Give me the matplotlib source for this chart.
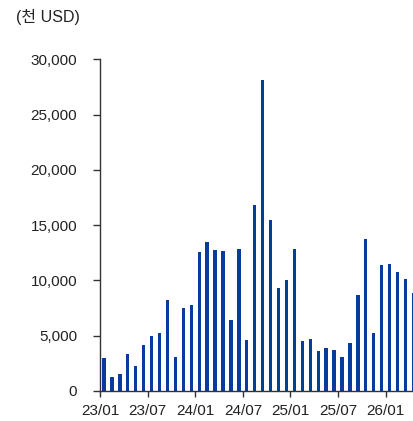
import matplotlib
matplotlib.use("Agg")
import matplotlib.pyplot as plt
from matplotlib.ticker import FuncFormatter

plt.rcParams['font.family'] = ['Liberation Sans', 'Noto Sans CJK KR', 'DejaVu Sans']

months = ["23/01", "23/02", "23/03", "23/04", "23/05", "23/06", "23/07", "23/08", "23/09", "23/10",
          "23/11", "23/12", "24/01", "24/02", "24/03", "24/04", "24/05", "24/06", "24/07", "24/08",
          "24/09", "24/10", "24/11", "24/12", "25/01", "25/02", "25/03", "25/04", "25/05", "25/06",
          "25/07", "25/08", "25/09", "25/10", "25/11", "25/12", "26/01", "26/02", "26/03", "26/04"]
values = [3000, 1270, 1500, 3340, 2230, 4190, 4970, 5210, 8220, 3070,
          7530, 7800, 12590, 13490, 12770, 12650, 6450, 12830, 4640, 16780,
          28130, 15480, 9340, 10060, 12800, 4550, 4670, 3610, 3860, 3670,
          3040, 4340, 8700, 13770, 5210, 11360, 11480, 10720, 10090, 8830]
tick_labels = ["23/01", "23/07", "24/01", "24/07", "25/01", "25/07", "26/01"]
unit_label = "(천 USD)"

fig = plt.figure(figsize=(4.14, 4.21), dpi=100)
ax = fig.add_axes([100/414, 30/421, 317.4/414, 331.7/421])

x = list(range(len(months)))
ax.bar(x, values, width=0.42, color="#0B3A9E", zorder=2)

ax.set_xlim(-0.5, len(months) - 0.5)
ax.set_ylim(0, 30000)
ax.set_yticks(range(0, 30001, 5000))
ax.yaxis.set_major_formatter(FuncFormatter(lambda v, p: f"{int(v):,}"))
tick_pos = [months.index(t) - 0.5 for t in tick_labels]
ax.set_xticks(tick_pos)
ax.set_xticklabels(tick_labels)

for s in ["top", "right"]:
    ax.spines[s].set_visible(False)
for s in ["left", "bottom"]:
    ax.spines[s].set_color("#333333")
    ax.spines[s].set_linewidth(1.0)

ax.tick_params(axis="y", direction="out", length=5, width=1, color="#333333", pad=11.5, labelsize=11, labelcolor="#222222")
ax.tick_params(axis="x", direction="out", length=4.5, width=1, color="#333333", pad=5, labelsize=11, labelcolor="#222222")

fig.text(16/414, 1 - 17/421, unit_label, fontsize=11.5, color="#222222", va="center", ha="left")

fig.savefig("out.png", dpi=100)
